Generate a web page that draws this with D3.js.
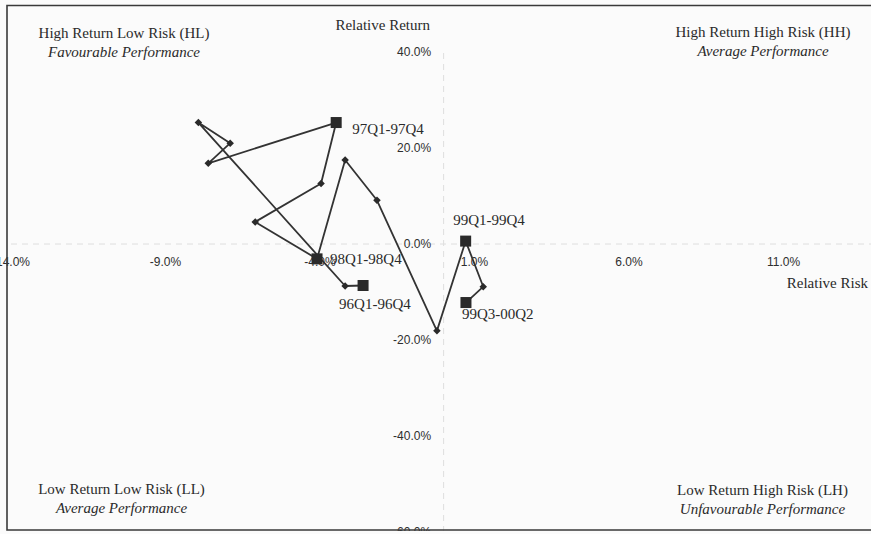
<!DOCTYPE html>
<html>
<head>
<meta charset="utf-8">
<script src="https://cdn.jsdelivr.net/npm/d3@7"></script>
<style>
  html, body { margin: 0; padding: 0; background: #fbfbfb; }
  svg { display: block; }
</style>
</head>
<body>
<script>
// ---- data (relative risk %, relative return %) ----
const periods = ["96Q1-96Q4","p2","p3","p4","p5","97Q1-97Q4","p7","p8","98Q1-98Q4","p10","p11","p12","99Q1-99Q4","p14","99Q3-00Q2"];
const relRisk   = [-2.59, -3.17, -7.92, -6.89, -7.60, -3.46, -3.95, -6.08, -4.08, -3.17, -2.14, -0.20, 0.73, 1.30, 0.74];
const relReturn = [-8.75, -8.85, 25.2, 20.9, 16.7, 25.2, 12.5, 4.5, -3.2, 17.4, 9.0, -18.2, 0.5, -9.0, -12.3];
const labelled  = [true, false, false, false, false, true, false, false, true, false, false, false, true, false, true];
const xTicks = [-14, -9, -4, 1, 6, 11];
const yTicks = [40, 20, 0, -20, -40, -60];
const quadrantTitles = ["High Return Low Risk (HL)", "High Return High Risk (HH)", "Low Return Low Risk (LL)", "Low Return High Risk (LH)"];
const quadrantSubs   = ["Favourable Performance", "Average Performance", "Average Performance", "Unfavourable Performance"];

const W = 871, H = 534;
const svg = d3.select("body").append("svg").attr("width", W).attr("height", H);

const x = d3.scaleLinear().domain([-14, 16]).range([10.5, 937.5]);
const y = d3.scaleLinear().domain([-60, 40]).range([531.5, 51.5]);

const serif = "'Liberation Serif', 'Times New Roman', serif";
const sans = "'Liberation Sans', Arial, sans-serif";
const ink = "#2a2a2a";
const pct = d => d.toFixed(1) + "%";

// axes
const xAxis = d3.axisBottom(x).tickValues(xTicks).tickSize(0).tickPadding(14).tickFormat(pct);
const yAxis = d3.axisLeft(y).tickValues(yTicks).tickSize(0).tickPadding(12).tickFormat(pct);

const gx = svg.append("g").attr("transform", `translate(0,${y(0)})`).call(xAxis);
const gy = svg.append("g").attr("transform", `translate(${x(0)},0)`).call(yAxis);
[gx, gy].forEach(g => {
  g.select(".domain").attr("stroke", "#dedede").attr("stroke-width", 1).attr("stroke-dasharray", "6,5");
  g.selectAll("text").attr("font-family", sans).attr("font-size", 12).attr("fill", "#2e2e2e");
});

// axis titles
svg.append("text").attr("x", 430).attr("y", 25).attr("dy", "0.35em")
  .attr("text-anchor", "end").attr("font-family", serif).attr("font-size", 15).attr("fill", ink)
  .text("Relative Return");
svg.append("text").attr("x", 868).attr("y", 283).attr("dy", "0.35em")
  .attr("text-anchor", "end").attr("font-family", serif).attr("font-size", 15).attr("fill", ink)
  .text("Relative Risk");

// quadrant labels
const qPos = [[124, 33], [763, 32], [121.5, 489], [762.5, 490]];
quadrantTitles.forEach((t, i) => {
  svg.append("text").attr("x", qPos[i][0]).attr("y", qPos[i][1]).attr("dy", "0.35em")
    .attr("text-anchor", "middle").attr("font-family", serif).attr("font-size", 15).attr("fill", ink)
    .text(t);
  svg.append("text").attr("x", qPos[i][0]).attr("y", qPos[i][1] + 19).attr("dy", "0.35em")
    .attr("text-anchor", "middle").attr("font-family", serif).attr("font-style", "italic")
    .attr("font-size", 15).attr("fill", ink)
    .text(quadrantSubs[i]);
});

// path
const pts = relRisk.map((r, i) => ({ r, v: relReturn[i], p: periods[i], lab: labelled[i] }));
const line = d3.line().x(d => x(d.r)).y(d => y(d.v));
svg.append("path").datum(pts).attr("d", line)
  .attr("fill", "none").attr("stroke", "#333").attr("stroke-width", 1.8).attr("stroke-linejoin", "round");

// diamonds
svg.selectAll("path.dia").data(pts.filter(d => !d.lab)).join("path").attr("class", "dia")
  .attr("transform", d => `translate(${x(d.r)},${y(d.v)})`)
  .attr("d", d3.symbol(d3.symbolDiamond2, 36)())
  .attr("fill", ink);

// squares
svg.selectAll("rect.sq").data(pts.filter(d => d.lab)).join("rect").attr("class", "sq")
  .attr("x", d => x(d.r) - 5.5).attr("y", d => y(d.v) - 5.5)
  .attr("width", 11).attr("height", 11).attr("fill", ink);

// period labels
const labOff = { "96Q1-96Q4": [-24, 18], "97Q1-97Q4": [16, 6], "98Q1-98Q4": [13, 0], "99Q1-99Q4": [-12.5, -21], "99Q3-00Q2": [-4, 11] };
svg.selectAll("text.per").data(pts.filter(d => d.lab)).join("text").attr("class", "per")
  .attr("x", d => x(d.r) + labOff[d.p][0]).attr("y", d => y(d.v) + labOff[d.p][1]).attr("dy", "0.35em")
  .attr("font-family", serif).attr("font-size", 15).attr("fill", ink)
  .text(d => d.p);

// chart border (right side cropped)
svg.append("path").attr("d", `M${W + 5},5.5 H7 V530 H${W + 5}`)
  .attr("fill", "none").attr("stroke", "#3a3a3a").attr("stroke-width", 1.6);
svg.append("rect").attr("x", 0).attr("y", 531).attr("width", W).attr("height", 3).attr("fill", "#fbfbfb");
</script>
</body>
</html>
